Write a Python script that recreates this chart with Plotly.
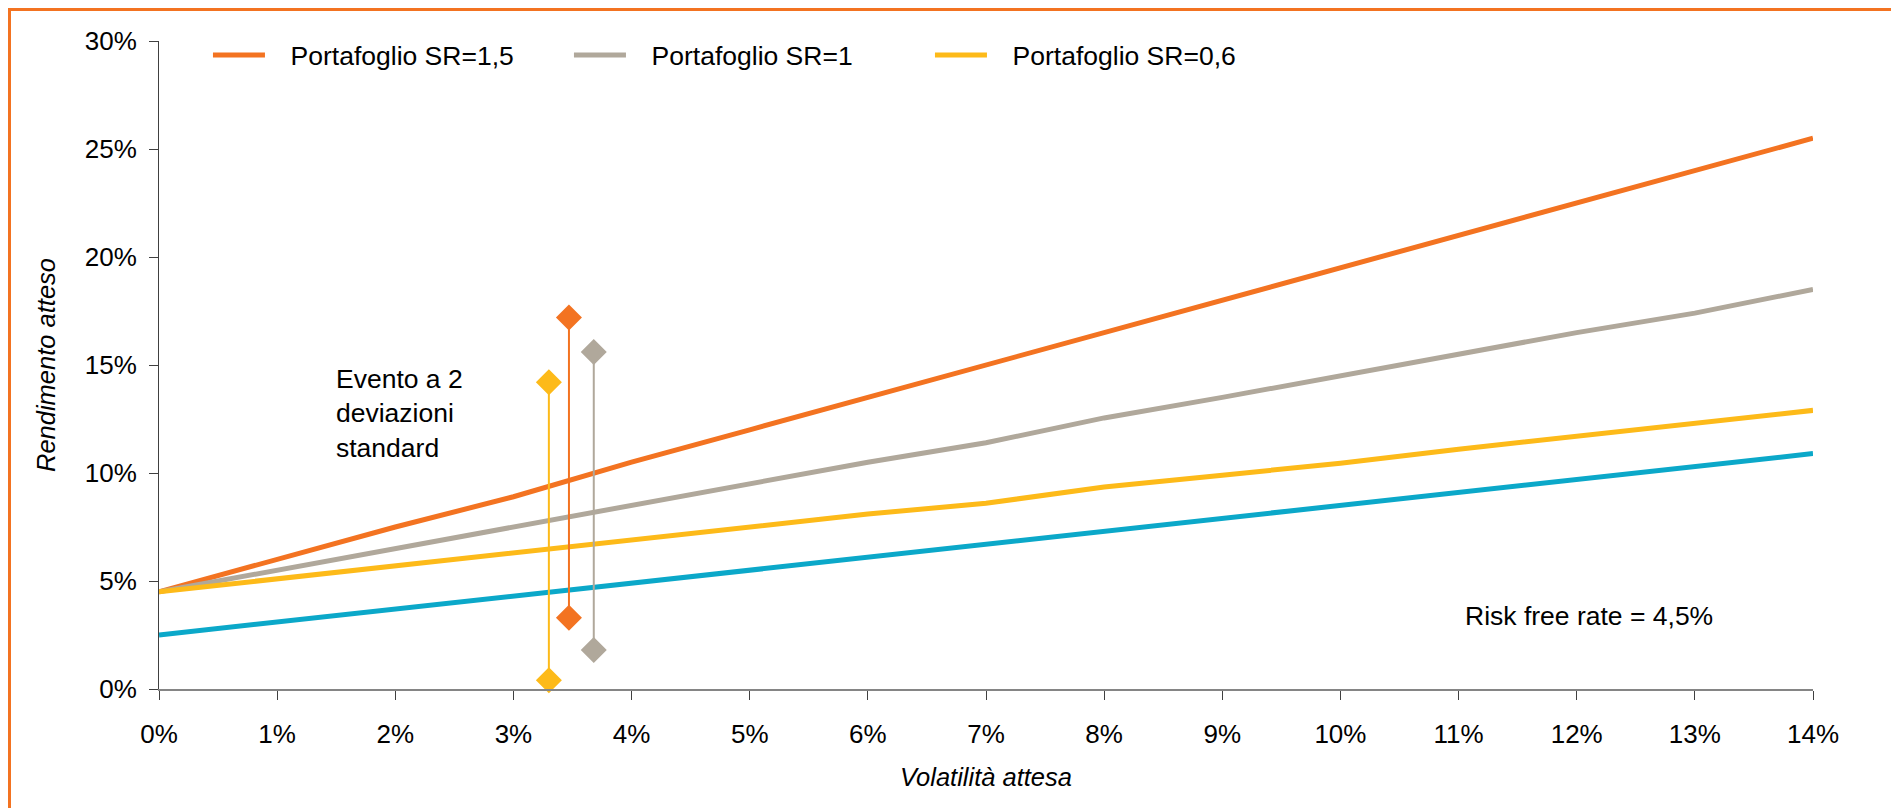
import plotly.graph_objects as go

# ---- data ----
volatility = [0, 1, 2, 3, 4, 5, 6, 7, 8, 9, 10, 11, 12, 13, 14]  # % expected volatility
sr15 = [4.5, 6.0, 7.5, 8.9, 10.5, 12.0, 13.5, 15.0, 16.5, 18.0, 19.5, 21.0, 22.5, 24.0, 25.5]
sr10 = [4.5, 5.5, 6.5, 7.5, 8.5, 9.5, 10.5, 11.4, 12.55, 13.5, 14.5, 15.5, 16.5, 17.4, 18.5]
sr06 = [4.5, 5.1, 5.7, 6.3, 6.9, 7.5, 8.1, 8.6, 9.35, 9.9, 10.45, 11.1, 11.7, 12.3, 12.9]
base = [2.5, 3.1, 3.7, 4.3, 4.9, 5.5, 6.1, 6.7, 7.3, 7.9, 8.5, 9.1, 9.7, 10.3, 10.9]

series_names = ["Portafoglio SR=1,5", "Portafoglio SR=1", "Portafoglio SR=0,6"]
series_colors = ["#F37321", "#B0A89B", "#FDBA19"]
base_color = "#0BA8C9"

# 2-standard-deviation event ranges: x, low, high
event_x = [3.47, 3.68, 3.30]
event_low = [3.3, 1.8, 0.4]
event_high = [17.2, 15.6, 14.2]

x_ticks = list(range(0, 15))
x_tick_labels = [f"{v}%" for v in x_ticks]
y_ticks = [0, 5, 10, 15, 20, 25, 30]
y_tick_labels = [f"{v}%" for v in y_ticks]

FONT = "Liberation Sans, Arial, sans-serif"
FS = 26.5
GAP = "\u2002\u00a0"

# page has an 8px body margin; the figure is sized so it fills the window
W, H = 1891, 800
ML, MT, PW, PH = 151, 33, 1654, 648

fig = go.Figure()

fig.add_trace(go.Scatter(x=volatility, y=base, mode="lines", showlegend=False,
                         line=dict(color=base_color, width=5), hoverinfo="skip"))
for vals, name, col in zip([sr15, sr10, sr06], series_names, series_colors):
    fig.add_trace(go.Scatter(x=volatility, y=vals, mode="lines", name=GAP + name,
                             line=dict(color=col, width=5)))

for ex, lo, hi, col in zip(event_x, event_low, event_high, series_colors):
    fig.add_trace(go.Scatter(x=[ex, ex], y=[lo, hi], mode="lines+markers", showlegend=False,
                             line=dict(color=col, width=2),
                             marker=dict(symbol="diamond", size=20, color=col),
                             cliponaxis=False))

fig.add_annotation(x=1.48, y=12.75, xref="x", yref="y", text="Evento a 2<br>deviazioni<br>standard",
                   showarrow=False, xanchor="left", yanchor="middle", align="left",
                   font=dict(size=FS, color="#000000", family=FONT))
fig.add_annotation(x=12.1, y=3.4, xref="x", yref="y", text="Risk free rate = 4,5%",
                   showarrow=False, xanchor="center", yanchor="middle",
                   font=dict(size=FS, color="#000000", family=FONT))

# orange frame around the whole picture
fig.add_shape(type="rect", xref="paper", yref="paper",
              x0=(1.5 - ML) / PW, x1=(1887 - ML) / PW,
              y0=(MT + PH - 830) / PH, y1=(MT + PH - 1.5) / PH,
              line=dict(color="#F37321", width=3), fillcolor="rgba(0,0,0,0)", layer="below")

fig.update_layout(
    width=W, height=H,
    margin=dict(l=ML, r=W - ML - PW, t=MT, b=H - MT - PH),
    paper_bgcolor="white", plot_bgcolor="white",
    font=dict(family=FONT, size=26, color="#000000"),
    legend=dict(orientation="h", x=0.0296, y=0.978, xanchor="left", yanchor="middle",
                font=dict(size=FS), itemwidth=52, entrywidth=294, entrywidthmode="pixels",
                bgcolor="rgba(0,0,0,0)"),
    xaxis=dict(range=[0, 14], tickvals=x_ticks, ticktext=x_tick_labels, automargin=False,
               showgrid=False, zeroline=False, showline=True, linecolor="#858585", linewidth=2,
               ticks="outside", ticklen=9, tickcolor="#404040", tickwidth=1,
               ticklabelstandoff=12,
               title=dict(text="<i>Volatilità attesa</i>", font=dict(size=25.5), standoff=20)),
    yaxis=dict(range=[0, 30], tickvals=y_ticks, ticktext=y_tick_labels, automargin=False,
               showgrid=False, zeroline=False, showline=True, linecolor="#404040", linewidth=1,
               ticks="outside", ticklen=9, tickcolor="#404040", tickwidth=1,
               ticklabelstandoff=7,
               title=dict(text="<i>Rendimento atteso</i>", font=dict(size=25.5), standoff=21)),
)

fig.write_html("out.html")
